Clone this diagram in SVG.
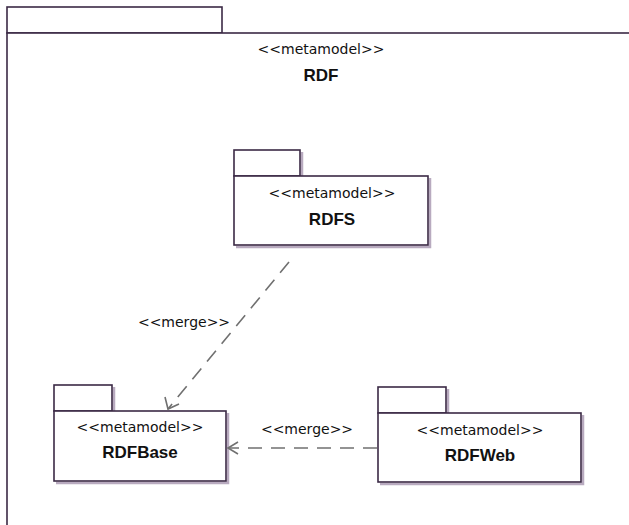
<svg xmlns="http://www.w3.org/2000/svg" width="629" height="525" viewBox="0 0 629 525">
<defs>
<style>
.box{fill:#fff;stroke:#3b2a45;stroke-width:1.6}
.sh{fill:none;stroke:#b8aabf;stroke-width:2.5}
.st{font-family:"DejaVu Sans",Verdana,sans-serif;font-size:14px;fill:#111;text-anchor:middle}
.nm{font-family:"Liberation Sans",Arial,sans-serif;font-size:17px;font-weight:bold;fill:#111;text-anchor:middle}
.dep{fill:none;stroke:#707070;stroke-width:1.6;stroke-dasharray:14,9}
.ah{fill:none;stroke:#707070;stroke-width:1.6}
</style>
</defs>
<rect width="629" height="525" fill="#fff"/>
<g id="RDF">
<rect class="box" x="7" y="7" width="215" height="26"/>
<rect class="box" x="7" y="33" width="640" height="500"/>
<text class="st" x="321" y="54">&lt;&lt;metamodel&gt;&gt;</text>
<text class="nm" x="321" y="81">RDF</text>
</g>
<g id="RDFS">
<path class="sh" d="M302,152 V176 M430,178 V247 H236"/>
<rect class="box" x="234" y="150" width="66" height="26"/>
<rect class="box" x="234" y="176" width="194" height="69"/>
<text class="st" x="332" y="198">&lt;&lt;metamodel&gt;&gt;</text>
<text class="nm" x="332" y="225">RDFS</text>
</g>
<g id="RDFBase">
<path class="sh" d="M114,387 V411 M228,413 V483 H56"/>
<rect class="box" x="54" y="385" width="58" height="26"/>
<rect class="box" x="54" y="411" width="172" height="70"/>
<text class="st" x="140" y="432">&lt;&lt;metamodel&gt;&gt;</text>
<text class="nm" x="140" y="458">RDFBase</text>
</g>
<g id="RDFWeb">
<path class="sh" d="M448,389 V413 M583,415 V484 H380"/>
<rect class="box" x="378" y="387" width="68" height="26"/>
<rect class="box" x="378" y="413" width="203" height="69"/>
<text class="st" x="480" y="435">&lt;&lt;metamodel&gt;&gt;</text>
<text class="nm" x="480" y="461">RDFWeb</text>
</g>
<g id="connectors">
<path class="dep" d="M289,262 L168,409"/>
<path class="ah" d="M165,397 L168,409 L179,404"/>
<text class="st" x="184" y="327">&lt;&lt;merge&gt;&gt;</text>
<path class="dep" d="M377,448 L228,448"/>
<path class="ah" d="M238,442 L228,448 L238,454"/>
<text class="st" x="307" y="434">&lt;&lt;merge&gt;&gt;</text>
</g>
</svg>
